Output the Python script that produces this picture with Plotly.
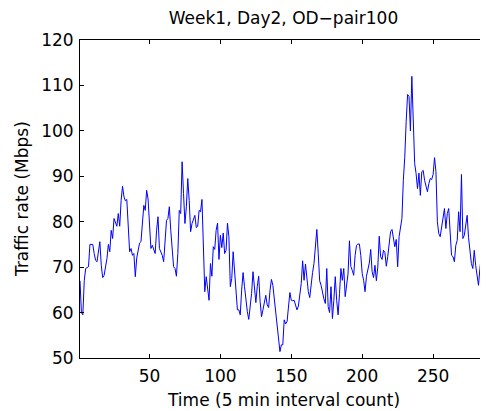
import plotly.graph_objects as go

# Traffic rate (Mbps) per 5-minute interval, Week1 Day2 OD-pair100
traffic = [
    67, 60, 59.5, 67, 69.7, 70, 70.1, 75, 75, 75,
    73, 71.5, 71.2, 73.4, 75.6, 70.4, 67.7, 68.2, 70, 71.9,
    75, 73.4, 78.1, 76.3, 80.7, 80, 79, 81.8, 79, 84.7,
    87.8, 85.5, 84.6, 84.9, 79.6, 73.4, 74.1, 72.6, 73, 67.9,
    72, 74, 75.3, 75.6, 79.6, 83.6, 82.5, 86.9, 85, 79,
    74.1, 74.8, 73.7, 73.0, 78.1, 81.1, 74.1, 73.4, 72.6, 71.2,
    75.9, 80.3, 80.7, 83.3, 78.1, 73.7, 70.1, 69.7, 68.0, 73.0,
    82.5, 81.8, 93.2, 86.2, 79.6, 83.3, 89.5, 84.7, 77.8, 79.6,
    80.7, 81.4, 78.7, 79.0, 82.5, 82.2, 84.9, 76.7, 64.6, 67.9,
    65.7, 62.7, 70.8, 68.0, 74.5, 73.9, 78.1, 79.7, 71.7, 77.0,
    74.3, 77.5, 73.0, 73.7, 79.7, 76.7, 65.7, 67.5, 73.4, 69.0,
    65.7, 60.6, 60.6, 59.5, 65.0, 68.8, 65.7, 62.4, 60.2, 58.5,
    61.5, 64.2, 69.0, 65.7, 62.2, 65.7, 68.0, 62.5, 59.1, 60.6,
    62.5, 63.8, 61.7, 61.1, 64.9, 67.3, 66.0, 63.1, 60.6, 57.3,
    54.0, 51.4, 52.9, 52.9, 58.4, 57.5, 58.0, 61.4, 64.4, 62.7,
    62.6, 62.7, 61.4, 60.6, 61.4, 63.8, 66.4, 71.4, 67.1, 70.7,
    67.1, 64.6, 63.3, 66.4, 68.8, 70.8, 74.5, 78.3, 73, 67,
    66.0, 64.2, 63, 62.0, 69.7, 61.3, 60, 65.7, 58.7, 62.7,
    67.9, 62.7, 59.5, 64.2, 69.7, 67.1, 69.7, 63.5, 65.7, 68.5,
    75.8, 70.1, 69.3, 68.2, 72.6, 74.8, 75.1, 75.1, 72.6, 68.6,
    67.1, 64.6, 68.0, 69.3, 70.9, 73.9, 69.0, 67.7, 70.4, 67.0,
    70, 76.8, 72.3, 71.7, 73.7, 73.2, 70.2, 72.3, 74.8, 77.8,
    78.3, 76.3, 74.5, 76.1, 70.1, 76.7, 78.5, 80.7, 89.1, 94.2,
    102, 108, 107.6, 100, 112, 102.3, 92.8, 90.6, 87.3, 90.7,
    85.8, 91.0, 91.3, 89.1, 87.5, 86.6, 88.4, 89.5, 89.3, 90.4,
    94.1, 91, 80.0, 77.4, 76.7, 78.9, 81.4, 82.9, 78.5, 81.8,
    82.9, 76.7, 72.6, 72.3, 71.2, 74.8, 75.9, 82.2, 77.8, 90.4,
    76.3, 77.0, 79.7, 81.4, 76.5, 73.4, 70.8, 69.7, 73.7, 70.4,
    68.0, 66.0, 69.7, 72.4, 70.4, 80, 75.9, 80,
]
time_idx = list(range(1, len(traffic) + 1))

x_ticks = [50, 100, 150, 200, 250]
y_ticks = [50, 60, 70, 80, 90, 100, 110, 120]

title_text = "Week1, Day2, OD\u2212pair100"
x_title = "Time (5 min interval count)"
y_title = "Traffic rate (Mbps)"

FONT = "DejaVu Sans"
FS = 17

# page body has an 8px margin, so the figure is drawn 8px in from the corner
W, H = 480, 403
L, R, T, B = 72, 1, 32, 53
PW, PH = W - L - R, H - T - B

fig = go.Figure()
fig.add_trace(go.Scatter(
    x=time_idx, y=traffic, mode="lines",
    line=dict(color="#0000ff", width=1),
    showlegend=False, hoverinfo="skip",
))

axis_common = dict(
    showline=True, linecolor="black", linewidth=1,
    mirror="allticks", ticks="inside", ticklen=4, tickcolor="black",
    tickwidth=1, showgrid=False, zeroline=False, automargin=False,
    tickfont=dict(family=FONT, size=FS, color="black"),
)

fig.update_layout(
    width=W, height=H,
    paper_bgcolor="white", plot_bgcolor="white",
    margin=dict(l=L, r=R, t=T, b=B),
    title=dict(text=title_text, x=(L + PW / 2) / W, xanchor="center",
               y=1 - 10 / H, yanchor="middle", yref="container",
               font=dict(family=FONT, size=FS, color="black")),
    xaxis=dict(range=[1, 288], tickvals=x_ticks, ticklabelstandoff=3,
               **axis_common),
    yaxis=dict(range=[50, 120], tickvals=y_ticks, ticklabelstandoff=2,
               **axis_common),
    annotations=[
        dict(text=x_title, xref="paper", yref="paper",
             x=0.5, y=-(392 - (T + PH)) / PH,
             xanchor="center", yanchor="middle", showarrow=False,
             font=dict(family=FONT, size=FS, color="black")),
        dict(text=y_title, xref="paper", yref="paper",
             x=(14 - L) / PW, y=0.5, textangle=-90,
             xanchor="center", yanchor="middle", showarrow=False,
             font=dict(family=FONT, size=FS, color="black")),
    ],
)

fig.write_html("out.html")
